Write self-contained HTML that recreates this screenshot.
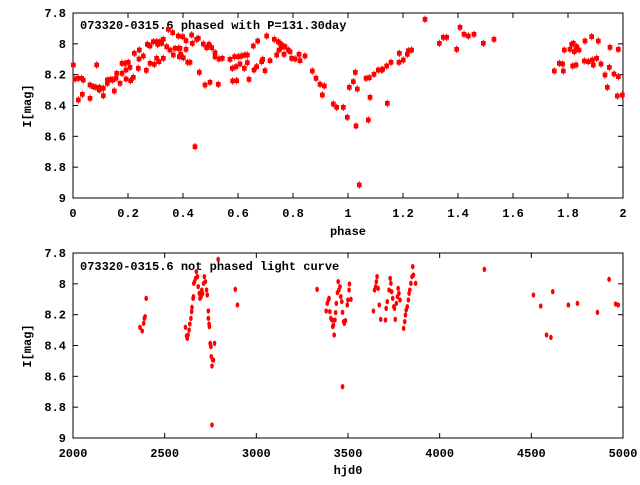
<!DOCTYPE html>
<html><head><style>
body{margin:0;background:#fff}
svg text{font-family:"Liberation Mono",monospace;font-weight:bold;font-size:12px;fill:#000}
</style></head><body>
<svg width="640" height="480" xmlns="http://www.w3.org/2000/svg">
<rect width="640" height="480" fill="#fff"/>
<rect x="73" y="13" width="550" height="185" fill="none" stroke="#000" stroke-width="1"/>
<rect x="73" y="253" width="550" height="185" fill="none" stroke="#000" stroke-width="1"/>
<g stroke="#000" stroke-width="1" id="ticks"></g>
<g id="labels"></g>
<text x="80" y="29">073320-0315.6 phased with P=131.30day</text>
<text x="80" y="270">073320-0315.6 not phased light curve</text>
<text x="348" y="235" text-anchor="middle">phase</text>
<text x="348" y="474" text-anchor="middle">hjd0</text>
<text transform="translate(31,106) rotate(-90)" text-anchor="middle">I[mag]</text>
<text transform="translate(31,346) rotate(-90)" text-anchor="middle">I[mag]</text>
<g id="p1" transform="translate(60,10) scale(0.33333)" fill="#f00" stroke="#f00"></g>
<g id="p2" transform="translate(330,10) scale(0.33333)" fill="#f00" stroke="#f00"></g>
<g id="p3" transform="translate(60,250) scale(0.363636,0.33333)" fill="#f00"></g>
</svg>
<script>
var NS="http://www.w3.org/2000/svg";
function el(p,t,a,txt){var e=document.createElementNS(NS,t);for(var k in a)e.setAttribute(k,a[k]);if(txt!==undefined)e.textContent=txt;p.appendChild(e);return e;}
var tk=document.getElementById('ticks'),lb=document.getElementById('labels');
var yl=["7.8","8","8.2","8.4","8.6","8.8","9"];
[[13,198],[253,438]].forEach(function(r,pi){
 for(var i=0;i<7;i++){var y=r[0]+i*(185/6);
  el(tk,'line',{x1:73,x2:78,y1:y,y2:y});el(tk,'line',{x1:618,x2:623,y1:y,y2:y});
  el(lb,'text',{x:66,y:y+4,'text-anchor':'end'},yl[i]);}
});
var xl=["0","0.2","0.4","0.6","0.8","1","1.2","1.4","1.6","1.8","2"];
for(var i=0;i<11;i++){var x=73+i*55;
 el(tk,'line',{x1:x,x2:x,y1:198,y2:193});el(tk,'line',{x1:x,x2:x,y1:13,y2:18});
 el(lb,'text',{x:x,y:217,'text-anchor':'middle'},xl[i]);}
for(var i=0;i<7;i++){var x=73+i*(550/6);
 el(tk,'line',{x1:x,x2:x,y1:438,y2:433});el(tk,'line',{x1:x,x2:x,y1:253,y2:258});
 el(lb,'text',{x:x,y:457,'text-anchor':'middle'},String(2000+i*500));}
var a=[40,165,45,207,55,270,55,205,65,205,70,210,67,253,90,265,90,225,100,230,110,165,108,232,118,232,118,240,130,235,130,257,142,210,142,220,152,208,158,210,163,243,168,205,170,190,180,220,186,190,186,160,195,160,198,180,198,207,205,157,210,172,212,212,220,202,223,130,235,175,237,147,238,120,250,138,259,181,262,103,270,108,270,160,280,95,283,163,290,95,290,145,293,103,297,155,300,95,305,100,310,88,310,145,320,110,325,58,330,120,338,68,340,135,345,115,355,115,355,78,358,140,360,115,362,133,368,80,370,143,378,92,378,118,383,157,390,157,395,75,397,100,405,410,410,88,415,85,418,187,430,102,435,225,440,113,447,103,450,217,455,113,465,128,465,140,475,223,477,147,487,145,510,148,517,175,518,213,524,140,528,170,530,212,535,140,540,162,545,138,553,175,555,135,562,158,562,135,567,208,580,108,582,180,590,170,593,93,605,155,608,148,615,182,620,78,630,152,643,88,650,135,655,95,657,120,660,100,665,112,665,105,672,133,675,110,685,120,690,125,695,145,705,147,717,133,720,152,735,138,757,183,768,205,780,223,787,255,793,228,820,282,830,292,850,292,862,322,868,232,880,215,886,187,888,348,892,237,898,525];
var b=[108,205,115,330,118,203,120,262,132,193,145,180,155,180,158,178,170,168,172,280,183,157,207,157,208,130,220,150,232,133,235,122,245,120,285,28,328,100,340,82,350,82,380,118,390,52,402,73,415,78,432,73,460,100,492,88,673,183,688,160,698,162,700,183,703,120,720,118,725,103,728,168,730,100,733,125,738,118,738,165,740,110,747,120,765,93,763,153,775,155,785,80,787,150,790,165,800,145,805,93,813,162,825,195,832,232,838,172,840,112,852,192,862,258,865,118,865,200,877,255];
function sq(g,arr){for(var i=0;i<arr.length;i+=2){var x=arr[i],y=arr[i+1];
 el(g,'rect',{x:x-7,y:y-7,width:14,height:14,stroke:'none'});
 el(g,'line',{x1:x,x2:x,y1:y-11,y2:y+11,'stroke-width':3});}}
sq(document.getElementById('p1'),a);sq(document.getElementById('p2'),b);
var c=[220,232,226,243,230,220,232,205,234,200,237,145,345,232,348,258,350,265,352,255,355,240,357,222,360,205,362,185,363,172,366,145,367,140,368,100,370,95,373,85,375,65,378,80,380,110,383,130,385,145,388,140,390,120,392,130,395,100,397,80,400,95,403,120,405,135,408,183,408,205,410,222,411,230,413,280,415,290,416,320,418,348,418,525,420,330,422,330,425,280,435,28,482,118,488,165,707,118,732,183,735,160,738,150,740,145,742,185,745,205,748,210,750,230,752,225,754,255,756,210,758,188,760,160,763,128,765,95,767,120,770,110,772,140,775,155,777,187,777,410,780,215,782,220,785,212,790,165,792,150,795,120,796,102,800,148,862,183,865,120,868,110,870,95,872,80,875,115,878,165,882,208,895,210,897,175,900,155,905,120,908,85,910,100,912,125,915,145,918,170,920,175,922,208,925,160,928,140,930,115,932,130,935,150,945,235,948,215,950,195,952,180,955,170,958,150,960,130,962,120,965,100,968,80,970,50,972,75,978,100,1167,58,1302,135,1322,168,1338,255,1350,262,1355,125,1398,165,1423,160,1478,187,1510,88,1528,162,1535,165];
var g3=document.getElementById('p3');
for(var i=0;i<c.length;i+=2)el(g3,'ellipse',{cx:c[i],cy:c[i+1],rx:5,ry:8});
</script>
</body></html>
